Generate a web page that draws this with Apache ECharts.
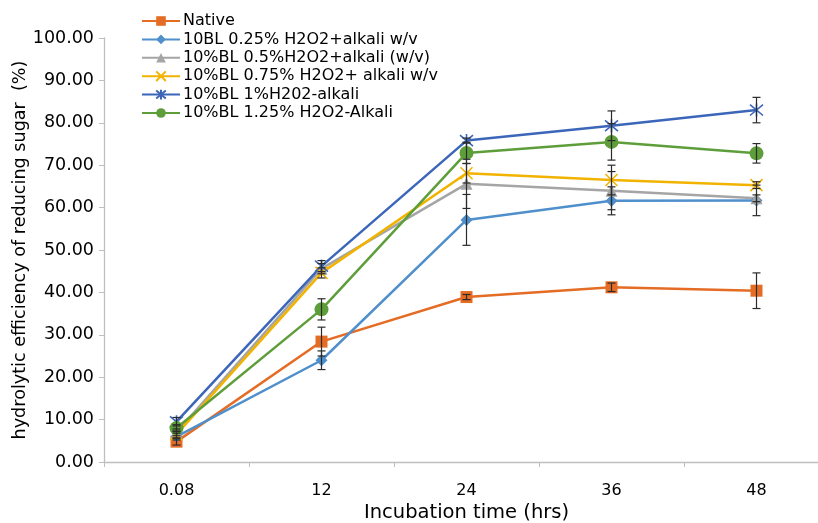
<!DOCTYPE html>
<html>
<head>
<meta charset="utf-8">
<script src="https://cdn.jsdelivr.net/npm/echarts@6/dist/echarts.min.js"></script>
<style>html,body{margin:0;padding:0;background:#fff}#c{width:818px;height:523px}</style>
</head>
<body>
<div id="c"></div>
<script>
const categories = ['0.08', '12', '24', '36', '48'];
const seriesNames = [
  'Native',
  '10BL 0.25% H2O2+alkali w/v',
  '10%BL 0.5%H2O2+alkali (w/v)',
  '10%BL 0.75% H2O2+ alkali w/v',
  '10%BL 1%H202-alkali',
  '10%BL 1.25% H2O2-Alkali'
];
const nativeVals = [4.8, 28.4, 38.9, 41.2, 40.4];
const bl025Vals = [6.0, 24.0, 57.1, 61.6, 61.7];
const bl05Vals = [7.0, 45.6, 65.6, 64.0, 62.2];
const bl075Vals = [6.5, 44.6, 68.1, 66.5, 65.3];
const bl1Vals = [9.5, 46.2, 75.8, 79.3, 83.0];
const bl125Vals = [8.0, 36.0, 72.9, 75.5, 72.8];

const nativeErr = [0.8, 3.4, 0.6, 1.0, 4.2];
const bl025Err = [0.8, 2.2, 6.0, 3.3, 3.6];
const bl05Err = [0.8, 1.2, 5.8, 4.5, 0.8];
const bl075Err = [0.8, 1.2, 2.3, 3.5, 0.8];
const bl1Err = [1.0, 1.3, 0.6, 3.5, 3.0];
const bl125Err = [0.8, 2.5, 2.5, 4.3, 2.3];

const colors = ['#E46C24', '#4F8FCB', '#A5A5A5', '#F2B300', '#3B66B9', '#5E9E3A'];
const xPath = 'path://M0,0L10,10M10,0L0,10';
const starPath = 'path://M0,0L10,10M10,0L0,10M5,-1L5,11';

const vals = [nativeVals, bl025Vals, bl05Vals, bl075Vals, bl1Vals, bl125Vals];
const errs = [nativeErr, bl025Err, bl05Err, bl075Err, bl1Err, bl125Err];
const symbols = ['rect', 'diamond', 'triangle', xPath, starPath, 'circle'];
const sizes = [12, 12, 12, 12, 13, 14];

const FONT = 'DejaVu Sans, sans-serif';

const series = [];
seriesNames.forEach((name, i) => {
  const isPath = i === 3 || i === 4;
  series.push({
    name: name,
    type: 'line',
    data: vals[i],
    symbol: symbols[i],
    symbolSize: sizes[i],
    showAllSymbol: true,
    lineStyle: { color: colors[i], width: 2.5 },
    itemStyle: isPath
      ? { color: 'rgba(0,0,0,0)', borderColor: colors[i], borderWidth: 1.6 }
      : { color: colors[i], borderColor: colors[i], borderWidth: 0 },
    emphasis: { disabled: true },
    z: 3
  });
});
seriesNames.forEach((name, i) => {
  series.push({
    type: 'custom',
    name: name + ' err',
    z: 4,
    silent: true,
    data: vals[i].map((v, j) => [j, v, errs[i][j]]),
    encode: { x: 0, y: 1 },
    renderItem: function (params, api) {
      const x = api.value(0), v = api.value(1), e = api.value(2);
      const hi = api.coord([x, v + e]);
      const lo = api.coord([x, v - e]);
      const w = 4;
      const st = { stroke: '#2b2b2b', lineWidth: 1.2 };
      return {
        type: 'group',
        children: [
          { type: 'line', shape: { x1: hi[0], y1: hi[1], x2: lo[0], y2: lo[1] }, style: st },
          { type: 'line', shape: { x1: hi[0] - w, y1: hi[1], x2: hi[0] + w, y2: hi[1] }, style: st },
          { type: 'line', shape: { x1: lo[0] - w, y1: lo[1], x2: lo[0] + w, y2: lo[1] }, style: st }
        ]
      };
    }
  });
});

const chart = echarts.init(document.getElementById('c'));
chart.setOption({
  animation: false,
  backgroundColor: '#fff',
  textStyle: { fontFamily: FONT },
  legend: {
    data: seriesNames.map((n) => ({ name: n })),
    orient: 'vertical',
    left: 136,
    top: 7,
    itemWidth: 38,
    itemHeight: 12,
    itemGap: 0.4,
    textStyle: { fontSize: 16, lineHeight: 18, color: '#000', fontFamily: FONT, padding: [0, 0, 0, -2] }
  },
  grid: { left: 104, top: 38, width: 725, height: 424, containLabel: false, outerBoundsMode: 'none' },
  xAxis: {
    type: 'category',
    data: categories,
    boundaryGap: true,
    name: 'Incubation time (hrs)',
    nameLocation: 'middle',
    nameGap: 41,
    nameMoveOverlap: false,
    nameTextStyle: { fontSize: 19.5, color: '#000', fontFamily: FONT },
    axisLine: { lineStyle: { color: '#BFBFBF', width: 1.3 } },
    axisTick: { show: true, alignWithLabel: false, length: 5, lineStyle: { color: '#BFBFBF' } },
    axisLabel: { fontSize: 16, color: '#000', margin: 21, fontFamily: FONT },
    splitLine: { show: false }
  },
  yAxis: {
    type: 'value',
    min: 0,
    max: 100,
    interval: 10,
    name: 'hydrolytic efficiency of reducing sugar  (%)',
    nameLocation: 'middle',
    nameGap: 75,
    nameMoveOverlap: false,
    nameRotate: 90,
    nameTextStyle: { fontSize: 17.6, color: '#000', fontFamily: FONT },
    axisLine: { show: true, lineStyle: { color: '#BFBFBF', width: 1.3 } },
    axisTick: { show: true, inside: false, length: 5, lineStyle: { color: '#BFBFBF' } },
    axisLabel: { fontSize: 17.5, color: '#000', margin: 10, formatter: v => v.toFixed(2), fontFamily: FONT },
    splitLine: { show: false }
  },
  series: series
});
</script>
</body>
</html>
